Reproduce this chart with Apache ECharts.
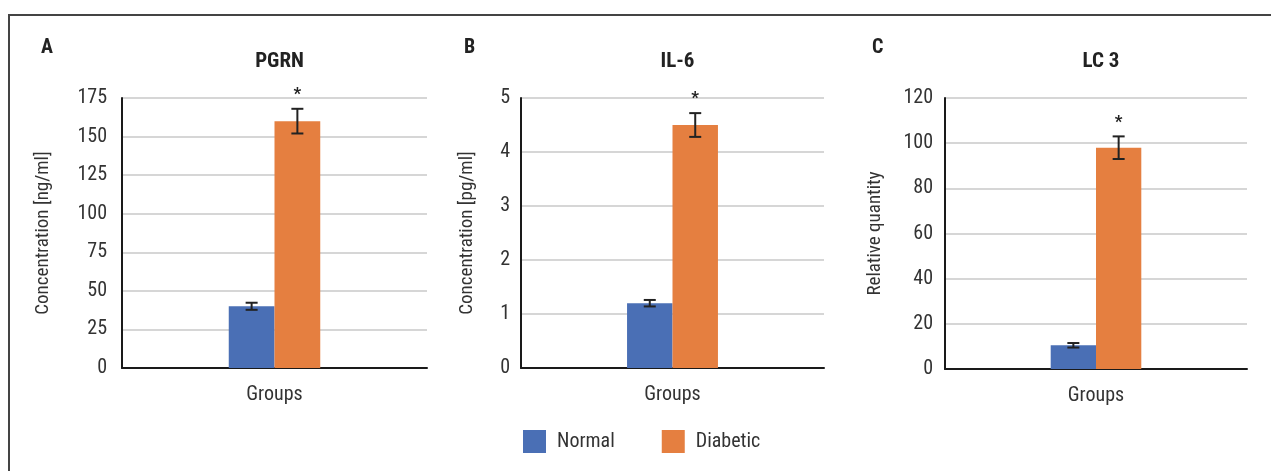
<!DOCTYPE html>
<html>
<head>
<meta charset="utf-8">
<script src="https://cdn.jsdelivr.net/npm/echarts@6/dist/echarts.min.js"></script>
<style>html,body{margin:0;padding:0;background:#fff}#c{width:1271px;height:471px}</style>
</head>
<body>
<div id="c"></div>
<script>
// ---- data ----
const categories = ['Groups'];
const seriesNames = ['Normal', 'Diabetic'];
const panelLetters = ['A', 'B', 'C'];
const panelTitles = ['PGRN', 'IL-6', 'LC 3'];
const yNames = ['Concentration [ng/ml]', 'Concentration [pg/ml]', 'Relative quantity'];
const yMax = [175, 5, 120];
const yStep = [25, 1, 20];
const normalValues = [40, 1.2, 10.5];
const normalErrors = [2.3, 0.06, 1.0];
const diabeticValues = [160, 4.5, 98];
const diabeticErrors = [8, 0.22, 5];
const significant = ['*', '*', '*'];

const FONT = '"Liberation Sans Narrow", "Roboto Condensed", "Liberation Sans", sans-serif';
const BLUE = '#4A6FB5', ORANGE = '#E57F40';
const gridsPos = [
  {left: 122, width: 305, top: 98, height: 270},
  {left: 521, width: 303, top: 98, height: 270},
  {left: 945, width: 302, top: 98, height: 271}
];
const nameGaps = [69, 44, 60];
const labelMargins = [15, 11, 12];
const letterLeft = [36, 459, 867];

const grid = [], xAxis = [], yAxis = [], series = [], title = [];
for (let i = 0; i < 3; i++) {
  grid.push(Object.assign({containLabel: false}, gridsPos[i]));
  xAxis.push({
    type: 'category', gridIndex: i, data: categories,
    axisLine: {lineStyle: {color: '#1a1a1a', width: 2}},
    axisTick: {show: false},
    axisLabel: {color: '#333', fontFamily: FONT, fontSize: 20, margin: 17}
  });
  yAxis.push({
    type: 'value', gridIndex: i, min: 0, max: yMax[i], interval: yStep[i],
    name: yNames[i], nameLocation: 'middle', nameRotate: 90, nameGap: nameGaps[i],
    nameMoveOverlap: false,
    nameTextStyle: {color: '#333', fontFamily: FONT, fontSize: 19},
    axisLine: {show: true, lineStyle: {color: '#1a1a1a', width: 2}},
    axisTick: {show: false},
    axisLabel: {color: '#333', fontFamily: FONT, fontSize: 20, margin: labelMargins[i]},
    splitLine: {lineStyle: {color: '#d6d6d6', width: 2}}
  });
  series.push({
    name: seriesNames[0], type: 'bar', xAxisIndex: i, yAxisIndex: i,
    data: [normalValues[i]], barWidth: '15%', barGap: '0%',
    itemStyle: {color: BLUE}, z: 2
  });
  series.push({
    name: seriesNames[1], type: 'bar', xAxisIndex: i, yAxisIndex: i,
    data: [diabeticValues[i]], barWidth: '15%', barGap: '0%',
    itemStyle: {color: ORANGE}, z: 2
  });
  const errData = [
    [0, normalValues[i], normalErrors[i], -1, ''],
    [0, diabeticValues[i], diabeticErrors[i], 1, significant[i]]
  ];
  series.push({
    type: 'custom', xAxisIndex: i, yAxisIndex: i, z: 5,
    data: errData,
    renderItem: function (params, api) {
      const c = api.value(0), v = api.value(1), e = api.value(2), side = api.value(3);
      const band = api.size([1, 0])[0];
      const x = api.coord([c, v])[0] + side * band * 0.075;
      const yHi = api.coord([c, v + e])[1];
      const yLo = api.coord([c, v - e])[1];
      const w = 6;
      const st = {stroke: '#222', lineWidth: 2};
      const children = [
        {type: 'line', shape: {x1: x, y1: yHi, x2: x, y2: yLo}, style: st},
        {type: 'line', shape: {x1: x - w, y1: yHi, x2: x + w, y2: yHi}, style: st},
        {type: 'line', shape: {x1: x - w, y1: yLo, x2: x + w, y2: yLo}, style: st}
      ];
      const mark = errData[params.dataIndex][4];
      if (mark) {
        children.push({type: 'text', x: x, y: yHi - 14, style: {
          text: mark, fill: '#222', font: 'bold 17px ' + FONT, align: 'center', verticalAlign: 'middle'
        }});
      }
      return {type: 'group', children: children};
    }
  });
  title.push({
    text: panelTitles[i], left: gridsPos[i].left + gridsPos[i].width / 2, top: 46, textAlign: 'center',
    textStyle: {fontFamily: FONT, fontWeight: 'bold', fontSize: 21, color: '#222'}
  });
  title.push({
    text: panelLetters[i], left: letterLeft[i], top: 33,
    textStyle: {fontFamily: FONT, fontWeight: 'bold', fontSize: 20, color: '#222'}
  });
}

const chart = echarts.init(document.getElementById('c'), null, {renderer: 'canvas'});
chart.setOption({
  animation: false,
  backgroundColor: '#fff',
  title: title,
  grid: grid, xAxis: xAxis, yAxis: yAxis, series: series,
  legend: {
    data: seriesNames, left: 523, top: 430, padding: 0, itemWidth: 23, itemHeight: 23, itemGap: 47,
    icon: 'rect',
    textStyle: {fontFamily: FONT, fontSize: 20, color: '#333', padding: [0, 0, 0, 6]}
  },
  graphic: [
    {type: 'polyline', shape: {points: [[9, 471], [9, 15], [1271, 15]]},
     style: {stroke: '#444', lineWidth: 2, fill: null}, silent: true}
  ]
});
</script>
</body>
</html>
